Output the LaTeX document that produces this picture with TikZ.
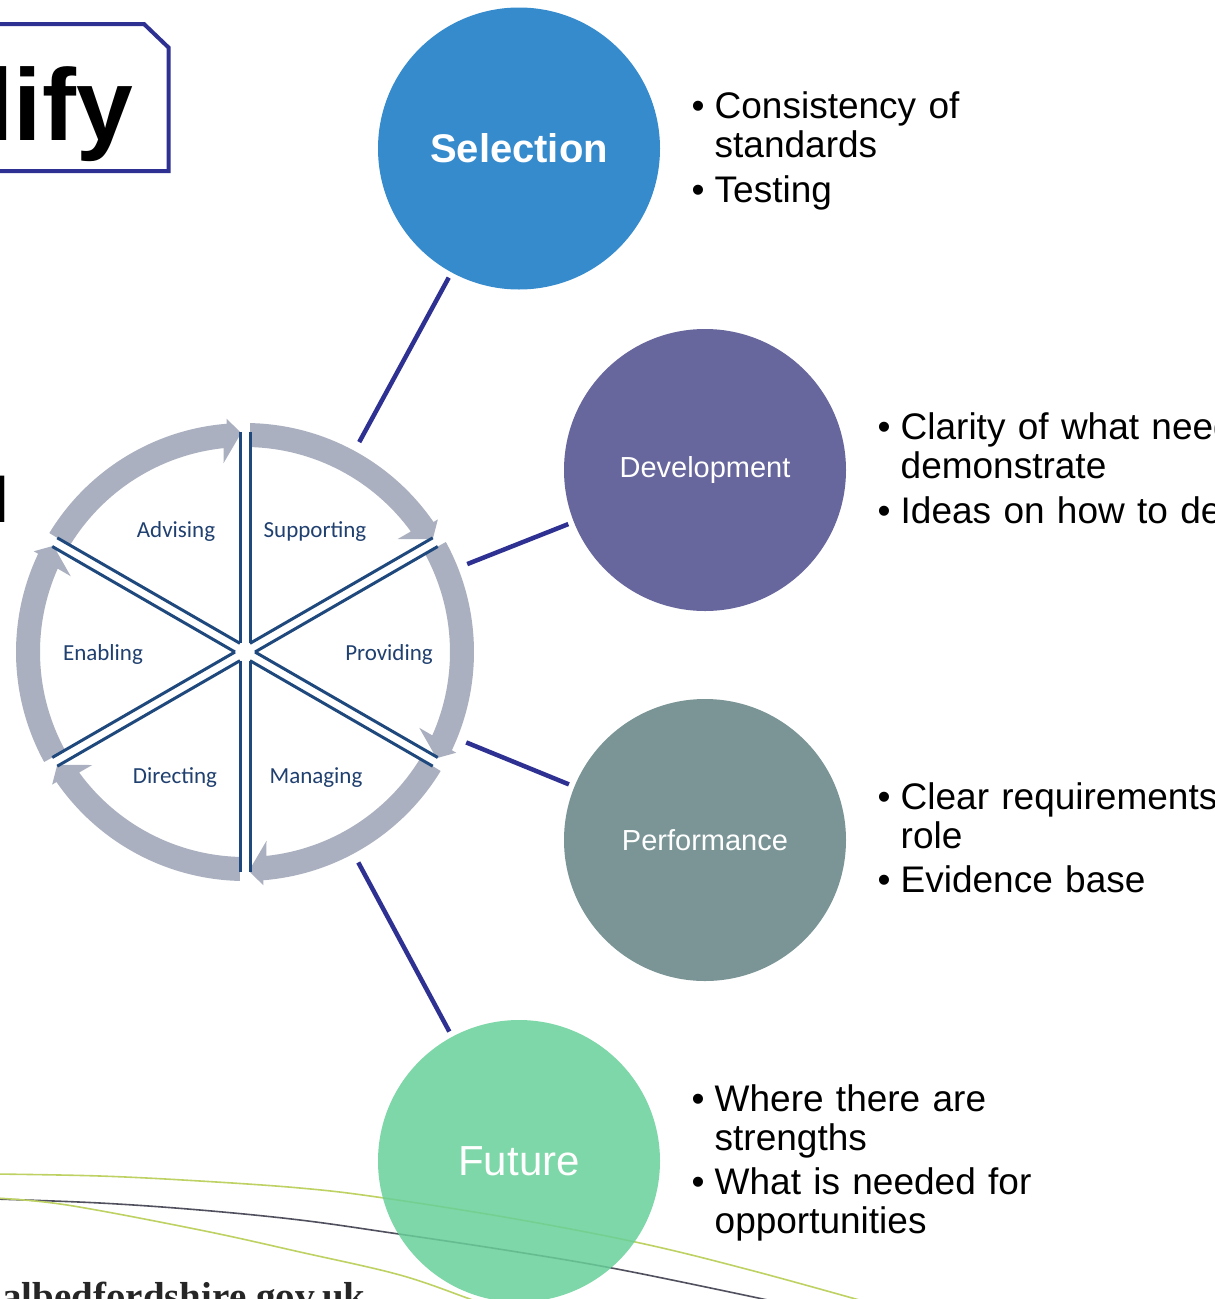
\documentclass[tikz,border=0pt]{standalone}
\usepackage{fontspec}
\setmainfont{Liberation Sans}
\newfontfamily\carlito{Carlito}
\newfontfamily\lserif{Liberation Serif}
\definecolor{selc}{RGB}{54,139,205}
\definecolor{devc}{RGB}{103,102,157}
\definecolor{perc}{RGB}{123,149,151}
\definecolor{futc}{RGB}{104,208,153}
\definecolor{navy}{RGB}{46,49,146}
\definecolor{ringc}{RGB}{170,176,192}
\definecolor{spokec}{RGB}{31,73,125}
\definecolor{wtext}{RGB}{32,64,112}
\definecolor{swgreen}{RGB}{190,210,100}
\definecolor{swgray}{RGB}{80,80,95}
\begin{document}
\begin{tikzpicture}[x=1pt,y=-1pt,
  bigc/.style={circle, minimum size=282pt, inner sep=0pt, outer sep=0pt, text=white},
  conn/.style={draw=navy, line width=4.5pt, shorten >=6pt},
  spoke/.style={draw=spokec, line width=3pt},
  wl/.style={anchor=base, inner sep=0pt, text=wtext, font=\carlito\fontsize{23}{27}\selectfont},
  bul/.style={anchor=base west, inner sep=0pt, font=\fontsize{37}{39}\selectfont},
  btx/.style={anchor=base west, inner sep=0pt, text width=700pt, align=left, font=\fontsize{37}{39}\selectfont},
  swline/.style={line width=1.6pt}]
\useasboundingbox (0,0) rectangle (1215,1299);
\clip (0,0) rectangle (1215,1299);
\fill[white] (0,0) rectangle (1215,1299);

% swoosh lines at the bottom
\draw[swline, swgreen] plot[smooth, tension=0.6] coordinates {(-5,1174) (100,1176) (200,1181) (300,1188) (377,1197) (510,1218) (640,1243) (750,1270) (870,1303)};
\draw[swline, swgray] plot[smooth, tension=0.6] coordinates {(-5,1199) (100,1203) (200,1210) (300,1220) (392,1233) (505,1250) (617,1269) (763,1299) (780,1303)};
\draw[swline, swgreen] plot[smooth, tension=0.6] coordinates {(-5,1198) (67,1205) (200,1230) (300,1252) (400,1275) (470,1299) (480,1302)};

% title box fragment
\draw[navy, line width=4pt] (-10,24) -- (144,24) -- (168.5,47.5) -- (168.5,171) -- (-10,171);
\node[anchor=base east, inner sep=0pt, font=\bfseries\fontsize{102}{110}\selectfont] (title) at (133,140) {lify};
\node[anchor=base west, inner sep=0pt, font=\bfseries\fontsize{64}{70}\selectfont] (frag) at (-8.6,522) {l};

% wheel
\begin{scope}[shift={(245,652)}, y=1pt]
\foreach \s in {150,90,30,-30,-90,-150}{
  \pgfmathsetmacro\e{\s-60}
  \pgfmathsetmacro\b{\s-30}
  \fill[ringc] ({\s-1.3}:229) arc[start angle={\s-1.3}, end angle={\e+4.6}, radius=229]
     -- ({\e+4.5}:234) -- ({\e+1}:219) -- ({\e+6.5}:190) -- ({\e+6}:205)
     arc[start angle={\e+6}, end angle={\s-1.3}, radius=205] -- cycle;
  \draw[spoke] (\b:10) -- ++(\s:211);
  \draw[spoke] (\b:10) -- ++(\e:211);
}
\end{scope}
\node[circle, minimum size=478pt, inner sep=0pt, outer sep=0pt] (wheel) at (245,652) {};

\node[wl] (adv) at (176,537) {Advising};
\node[wl] (sup) at (315,537) {Supporting};
\node[wl] (ena) at (103,660) {Enabling};
\node[wl] (pro) at (389,660) {Providing};
\node[wl] (dir) at (175,783) {Directing};
\node[wl] (man) at (316,783) {Managing};

% big circles
\node[bigc, fill=selc, font=\bfseries\fontsize{40}{48}\selectfont] (sel) at (519,148.5) {Selection};
\node[bigc, fill=devc, font=\fontsize{29}{35}\selectfont] (dev) at (705,470) {Development};
\node[bigc, fill=perc, font=\fontsize{29}{35}\selectfont] (per) at (705,840) {Performance};
\node[bigc, fill=futc, fill opacity=0.85, text opacity=1, font=\fontsize{42}{50}\selectfont] (fut) at (519,1161) {Future};

% connectors
\draw[conn] (wheel) -- (sel);
\draw[conn] (wheel) -- (dev);
\draw[conn] (wheel) -- (per);
\draw[conn] (wheel) -- (fut);

% bullet texts
\node[bul] (sb1) at (691.5,118) {•};
\node[btx] (st1) at (714.5,118) {Consistency of\\standards};
\node[bul] (sb2) at (691.5,202) {•};
\node[btx] (st2) at (714.5,202) {Testing};

\node[bul] (db1) at (877.5,439) {•};
\node[btx] (dt1) at (900.5,439) {Clarity of what need\\demonstrate};
\node[bul] (db2) at (877.5,523) {•};
\node[btx] (dt2) at (900.5,523) {Ideas on how to de};

\node[bul] (pb1) at (877.5,809) {•};
\node[btx] (pt1) at (900.5,809) {Clear requirements\\role};
\node[bul] (pb2) at (877.5,892) {•};
\node[btx] (pt2) at (900.5,892) {Evidence base};

\node[bul] (fb1) at (691.5,1111) {•};
\node[btx] (ft1) at (714.5,1111) {Where there are\\strengths};
\node[bul] (fb2) at (691.5,1194) {•};
\node[btx] (ft2) at (714.5,1194) {What is needed for\\opportunities};

% web address fragment
\node[anchor=base west, inner sep=0pt, font=\lserif\bfseries\fontsize{39}{45}\selectfont, text=black!85] (web) at (2,1309.5) {albedfordshire.gov.uk};
\end{tikzpicture}
\end{document}
